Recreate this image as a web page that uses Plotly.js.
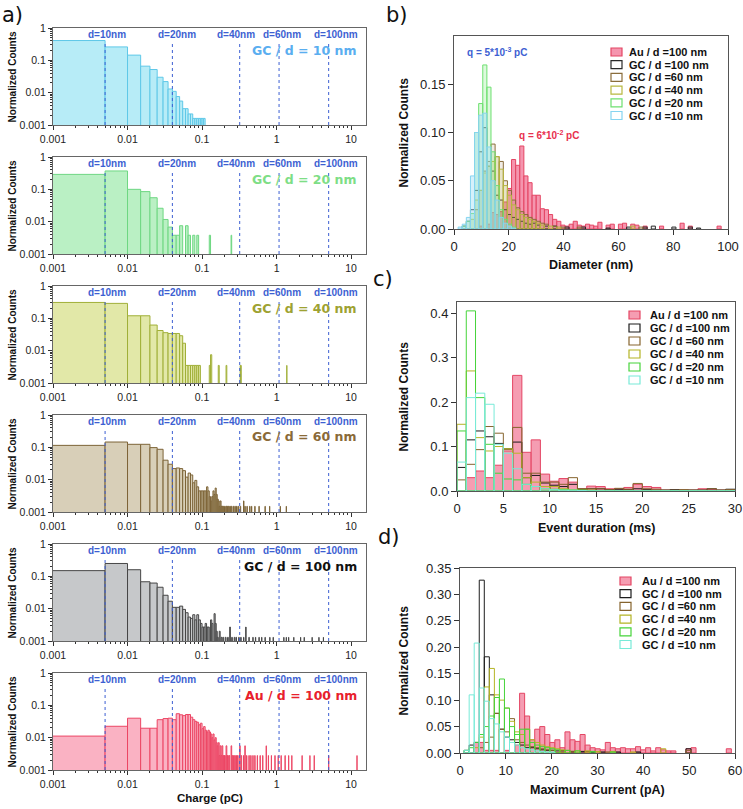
<!DOCTYPE html>
<html><head><meta charset="utf-8">
<script src="https://cdn.plot.ly/plotly-3.0.1.min.js"></script>
<style>html,body{margin:0;padding:0;background:#fff}#chart{width:743px;height:809px}</style>
</head><body><div id="chart"></div>
<script>
// ================= DATA =================
// charge of a sphere of diameter d (pC) -> marker lines
const markerCharges = [0.005, 0.04, 0.32, 1.08, 5];
const markerLabels = ['d=10nm', 'd=20nm', 'd=40nm', 'd=60nm', 'd=100nm'];
const chargeTicks = [0.001, 0.01, 0.1, 1, 10];
const chargeTickText = ['0.001', '0.01', '0.1', '1', '10'];
const countTicks = [0.001, 0.01, 0.1, 1];
const countTickText = ['0.001', '0.01', '0.1', '1'];
const chargeBinWidth = 0.005;

const panelNames = ['GC / d = 10 nm', 'GC / d = 20 nm', 'GC / d = 40 nm', 'GC / d = 60 nm', 'GC / d = 100 nm', 'Au / d = 100 nm'];

// charge histograms (bin centre, normalized count)
const chgGC10x = [0.0025,0.0075,0.0125,0.0175,0.0225,0.0275,0.0325,0.0375,0.0425,0.0475,0.0525,0.0575,0.0625,0.0675,0.0725,0.0775,0.0825,0.0875,0.0925,0.0975,0.1025,0.1075];
const chgGC10y = [0.41,0.26,0.145,0.066,0.052,0.030,0.022,0.013,0.011,0.0076,0.0055,0.0032,0.0032,0.0022,0.0022,0.0016,0.0016,0.0016,0.0016,0.0016,0.0016,0.0016];

const chgGC20x = [0.0025,0.0075,0.0125,0.0175,0.0225,0.0275,0.0325,0.0375,0.0425,0.0475,0.0525,0.0625,0.0675,0.0775,0.0875,0.1275,0.2475];
const chgGC20y = [0.29,0.37,0.10,0.085,0.055,0.026,0.0117,0.0068,0.0038,0.0038,0.0075,0.0075,0.0038,0.0038,0.0038,0.0038,0.0038];

const chgGC40x = [0.0025,0.0075,0.0125,0.0175,0.0225,0.0275,0.0325,0.0375,0.0425,0.0475,0.0525,0.0575,0.0625,0.0675,0.0725,0.0775,0.0825,0.0875,0.0925,0.1275,0.1325,0.1675,0.2125,0.3275,0.3325,1.3725];
const chgGC40y = [0.31,0.29,0.12,0.12,0.062,0.042,0.036,0.034,0.034,0.034,0.029,0.017,0.0035,0.0035,0.0035,0.0035,0.0035,0.0035,0.0035,0.0035,0.0075,0.0035,0.0035,0.0035,0.0035,0.0035];

const chgGC60x = [0.0025,0.0075,0.0125,0.0175,0.0225,0.0275,0.0325,0.0375,0.0425,0.0475,0.0525,0.0575,0.0625,0.0675,0.0725,0.0775,0.0825,0.0875,0.0925,0.0975,0.1025,0.1075,0.1125,0.1175,0.1225,0.1275,0.1325,0.1375,0.1425,0.1475,0.1525,0.1575,0.1625,0.1675,0.1725,0.1775,0.1825,0.1875,0.1925,0.2025,0.2125,0.2175,0.2275,0.2375,0.2475,0.2625,0.2775,0.2925,0.3075,0.3275,0.3625,0.3775,0.4025,0.4375,0.4625,0.5125,0.5825,0.7025,0.8075,1.1225,1.3525];
const chgGC60y = [0.115,0.146,0.124,0.124,0.098,0.087,0.040,0.030,0.022,0.023,0.022,0.019,0.012,0.016,0.014,0.008,0.0095,0.006,0.0045,0.0045,0.0045,0.0045,0.0045,0.006,0.0045,0.003,0.0022,0.003,0.0045,0.0035,0.0055,0.0035,0.0025,0.0022,0.0015,0.0022,0.0015,0.0015,0.0015,0.0015,0.0015,0.0015,0.0015,0.0015,0.0015,0.0015,0.0015,0.0015,0.0015,0.0015,0.0022,0.0015,0.0015,0.0015,0.0015,0.0015,0.0015,0.0015,0.0015,0.0015,0.0015];

const chgGC100x = [0.0025,0.0075,0.0125,0.0175,0.0225,0.0275,0.0325,0.0375,0.0425,0.0475,0.0525,0.0575,0.0625,0.0675,0.0725,0.0775,0.0825,0.0875,0.0925,0.0975,0.1025,0.1075,0.1125,0.1175,0.1225,0.1325,0.1375,0.1475,0.1525,0.1575,0.1625,0.1725,0.1825,0.1925,0.2075,0.2225,0.2375,0.2525,0.2725,0.2875,0.3125,0.3325,0.3625,0.3875,0.4275,0.4825,0.5225,0.5825,0.6325,0.7025,0.8125,0.9025,1.2525,1.3525,1.4525,1.7025,2.1025,2.3525,3.0025,3.7025,4.2525];
const chgGC100y = [0.15,0.25,0.16,0.068,0.062,0.046,0.026,0.017,0.011,0.011,0.012,0.0095,0.0075,0.0055,0.005,0.0065,0.0045,0.0065,0.0045,0.0035,0.0027,0.0027,0.0035,0.0027,0.0027,0.0045,0.0035,0.007,0.0035,0.002,0.0013,0.002,0.0013,0.0013,0.0013,0.0013,0.0027,0.0013,0.0013,0.0013,0.0013,0.0013,0.0013,0.0027,0.0013,0.0013,0.0013,0.0013,0.0013,0.0013,0.0013,0.0013,0.0013,0.0013,0.0013,0.0013,0.0013,0.0013,0.0013,0.0013,0.0013];

const chgAu100x = [0.0025,0.0075,0.0125,0.0175,0.0225,0.0275,0.0325,0.0375,0.0425,0.0475,0.0525,0.0575,0.0625,0.0675,0.0725,0.0775,0.0825,0.0875,0.0925,0.0975,0.1025,0.1075,0.1125,0.1175,0.1225,0.1275,0.1325,0.1375,0.1425,0.1475,0.1525,0.1575,0.1625,0.1675,0.1725,0.1775,0.1825,0.1875,0.1925,0.1975,0.2025,0.2125,0.2175,0.2225,0.2325,0.2475,0.2575,0.2675,0.2775,0.2925,0.3025,0.3225,0.3375,0.3625,0.3775,0.3975,0.4275,0.4525,0.4825,0.5125,0.5525,0.6025,0.6525,0.7275,0.7775,0.8525,0.9525,1.0525,1.1525,1.3025,1.4525,1.6025,2.2025,2.8025,3.2025,5.0025,12.0025];
const chgAu100y = [0.0112,0.0225,0.040,0.0196,0.0196,0.036,0.039,0.040,0.036,0.055,0.051,0.048,0.052,0.052,0.043,0.036,0.032,0.030,0.025,0.028,0.019,0.022,0.017,0.015,0.017,0.015,0.013,0.010,0.013,0.0085,0.010,0.007,0.0056,0.007,0.0028,0.0056,0.0028,0.0056,0.0028,0.0028,0.0028,0.0056,0.0028,0.0028,0.0028,0.0056,0.0028,0.0028,0.0028,0.0028,0.0028,0.0056,0.0028,0.0028,0.0056,0.0028,0.0028,0.0028,0.0028,0.0028,0.0028,0.0028,0.0028,0.0056,0.0028,0.0028,0.0028,0.0028,0.0028,0.0028,0.0028,0.0028,0.0028,0.0028,0.0028,0.0028,0.0028];

// series names for the right panels (legend order)
const seriesNames = ['Au / d =100 nm', 'GC / d =100 nm', 'GC / d =60 nm', 'GC / d =40 nm', 'GC / d =20 nm', 'GC / d =10 nm'];

// b) diameter histograms (nm)
const diamBinWidth = 1.5;
const diaAu100x = [9.75,12.75,14.25,15.75,17.25,18.75,20.25,21.75,23.25,24.75,26.25,27.75,29.25,30.75,32.25,33.75,35.25,36.75,38.25,39.75,41.25,42.75,44.25,45.75,47.25,48.75,50.25,51.75,53.25,56.25,57.75,60.75,62.25,65.25,66.75,69.75,75.75,83.25,86.25,96.75];
const diaAu100y = [0.003,0.005,0.017,0.015,0.018,0.028,0.042,0.072,0.066,0.086,0.055,0.048,0.035,0.035,0.021,0.020,0.015,0.010,0.008,0.004,0.003,0.005,0.008,0.004,0.003,0.005,0.004,0.003,0.007,0.004,0.005,0.005,0.006,0.005,0.004,0.003,0.003,0.006,0.003,0.003];
const diaGC100x = [3.75,5.25,6.75,8.25,9.75,11.25,12.75,14.25,15.75,17.25,18.75,20.25,21.75,23.25,24.75,26.25,27.75,29.25,30.75,33.75,36.75,41.25,47.25,56.25,63.75,69.75,72.75,80.25,86.25,89.25];
const diaGC100y = [0.003,0.008,0.02,0.04,0.08,0.105,0.065,0.06,0.035,0.03,0.02,0.015,0.012,0.01,0.008,0.006,0.005,0.006,0.004,0.003,0.003,0.002,0.002,0.001,0.002,0.002,0.003,0.002,0.002,0.001];
const diaGC60x = [8.25,9.75,11.25,12.75,14.25,15.75,17.25,18.75,20.25,21.75,23.25,24.75,26.25,27.75,29.25,30.75,32.25,33.75,36.75,39.75,45.75,68.25];
const diaGC60y = [0.02,0.04,0.06,0.07,0.088,0.075,0.07,0.05,0.04,0.03,0.022,0.018,0.015,0.012,0.01,0.008,0.006,0.005,0.003,0.002,0.002,0.002];
const diaGC40x = [6.75,8.25,9.75,11.25,12.75,14.25,15.75,17.25,18.75,20.25,21.75,23.25,24.75,26.25,27.75,29.25,30.75,32.25,35.25,38.25,65.25];
const diaGC40y = [0.01,0.03,0.04,0.058,0.065,0.07,0.075,0.062,0.045,0.035,0.025,0.02,0.015,0.012,0.01,0.008,0.006,0.004,0.003,0.002,0.003];
const diaGC20x = [3.75,5.25,6.75,8.25,9.75,11.25,12.75,14.25,15.75,17.25,18.75,20.25,21.75];
const diaGC20y = [0.003,0.008,0.016,0.1,0.13,0.17,0.147,0.08,0.045,0.02,0.01,0.005,0.002];
const diaGC10x = [2.25,3.75,5.25,6.75,8.25,9.75,11.25,12.75,14.25,15.75,17.25,18.75,20.25,21.75];
const diaGC10y = [0.002,0.005,0.012,0.055,0.1,0.118,0.12,0.085,0.05,0.03,0.012,0.006,0.003,0.001];

// c) event duration histograms (ms), bins of 1 ms
const durBinWidth = 1;
const durX = [0.5,1.5,2.5,3.5,4.5,5.5,6.5,7.5,8.5,9.5,10.5,11.5,12.5,13.5,14.5,15.5,16.5,17.5,18.5,19.5,20.5,21.5,22.5,23.5,24.5,25.5,26.5,27.5,28.5,29.5];
const durAu100 = [0,0.03,0.045,0.03,0.058,0.09,0.26,0.087,0.115,0.038,0.022,0.028,0.02,0.005,0.011,0.01,0.005,0.005,0.008,0.015,0.01,0.008,0.002,0.002,0.002,0.002,0.005,0.003,0.002,0.002];
const durGC100 = [0.053,0.115,0.135,0.122,0.107,0.095,0.11,0.03,0.035,0.018,0.013,0.01,0.015,0.004,0.005,0.005,0.003,0.004,0.003,0.005,0.003,0.002,0.002,0.003,0.002,0.002,0.002,0.005,0.002,0.004];
const durGC60 = [0.025,0.06,0.093,0.145,0.13,0.093,0.143,0.04,0.04,0.02,0.02,0.015,0.03,0.005,0.005,0.005,0.003,0.006,0.004,0.017,0.005,0.004,0.002,0.002,0.003,0.002,0.002,0.005,0.002,0.003];
const durGC40 = [0.15,0.27,0.12,0.09,0.1,0.095,0.085,0.03,0.02,0.01,0.01,0.005,0.003,0.002,0.002,0.001,0,0,0,0,0,0,0,0,0,0,0,0,0,0];
const durGC20 = [0.135,0.405,0.21,0.105,0.04,0.027,0.025,0.015,0.01,0.005,0.004,0.003,0.002,0.002,0.001,0,0,0,0,0,0,0,0,0,0,0,0,0,0,0];
const durGC10 = [0.065,0.21,0.22,0.195,0.105,0.085,0.05,0.015,0.01,0.005,0.003,0.002,0.002,0.001,0,0,0,0,0,0,0,0,0,0,0,0,0,0,0,0];

// d) maximum current histograms (pA)
const curBinWidth = 1.1;
const curAu100x = [3.65,4.75,5.85,6.95,8.05,10.25,12.45,13.55,14.65,15.75,16.85,17.95,19.05,20.15,21.25,22.35,23.45,24.55,25.65,26.75,27.85,28.95,30.05,31.15,32.25,33.35,34.45,35.55,36.65,37.75,38.85,39.95,41.05,42.15,43.25,44.35,45.45,46.55,49.85,50.95,58.65];
const curAu100y = [0.02,0.02,0.005,0.005,0.005,0.005,0.015,0.113,0.07,0.025,0.045,0.05,0.035,0.02,0.025,0.01,0.04,0.025,0.022,0.035,0.015,0.01,0.008,0.006,0.02,0.01,0.008,0.01,0.008,0.008,0.012,0.006,0.01,0.004,0.01,0.006,0.004,0.004,0.008,0.01,0.008];
const curGC100x = [1.45,2.55,3.65,4.75,5.85,6.95,8.05,9.15,10.25,11.35,12.45,13.55,14.65,15.75,16.85,17.95,19.05,20.15,21.25,22.35,24.55,26.75,28.95,31.15,34.45,38.85,49.85];
const curGC100y = [0.005,0.015,0.02,0.327,0.182,0.11,0.075,0.045,0.03,0.025,0.02,0.015,0.01,0.01,0.008,0.006,0.005,0.005,0.004,0.004,0.003,0.003,0.002,0.002,0.002,0.002,0.008];
const curGC60x = [4.75,5.85,6.95,8.05,9.15,10.25,11.35,12.45,13.55,14.65,15.75,16.85,17.95,19.05,20.15,22.35,24.55,27.85,32.25,49.85];
const curGC60y = [0.01,0.02,0.03,0.075,0.045,0.04,0.065,0.025,0.02,0.015,0.012,0.01,0.008,0.006,0.005,0.004,0.003,0.003,0.002,0.005];
const curGC40x = [3.65,4.75,5.85,6.95,8.05,9.15,10.25,11.35,12.45,13.55,14.65,15.75,16.85,17.95,19.05,20.15,21.25,22.35,23.45,25.65,27.85,30.05,33.35,37.75,44.35];
const curGC40y = [0.01,0.03,0.125,0.16,0.11,0.10,0.085,0.06,0.04,0.035,0.045,0.025,0.02,0.015,0.012,0.01,0.008,0.006,0.005,0.004,0.004,0.003,0.003,0.002,0.008];
const curGC20x = [1.45,2.55,3.65,4.75,5.85,6.95,8.05,9.15,10.25,11.35,12.45,13.55,14.65,15.75,16.85,17.95,19.05,20.15,21.25,23.45,25.65,28.95,33.35];
const curGC20y = [0.005,0.01,0.02,0.035,0.05,0.07,0.105,0.14,0.085,0.05,0.035,0.045,0.045,0.02,0.015,0.012,0.01,0.008,0.006,0.005,0.004,0.003,0.002];
const curGC10x = [1.45,2.55,3.65,4.75,5.85,6.95,8.05,9.15,10.25,11.35,12.45,13.55,14.65,15.75,16.85,17.95,19.05,20.15];
const curGC10y = [0.005,0.11,0.208,0.123,0.098,0.065,0.055,0.04,0.03,0.02,0.015,0.01,0.008,0.006,0.004,0.003,0.002,0.002];

// ================= STYLE / LAYOUT =================
const W = 743, HT = 809;
const fx = p => p / W, fy = p => 1 - p / HT;
const SANS = 'Liberation Sans, Arial, sans-serif';
const VERD = 'DejaVu Sans, Verdana, sans-serif';
const BLUE = '#3d5fd2';
const markerLabelShift = [2, 5, -4, 3, 7];

const leftData = [[chgGC10x, chgGC10y], [chgGC20x, chgGC20y], [chgGC40x, chgGC40y], [chgGC60x, chgGC60y], [chgGC100x, chgGC100y], [chgAu100x, chgAu100y]];
const leftStyle = [
  {fill: 'rgb(183,236,247)', line: 'rgb(95,200,232)', title: '#5aaef0'},
  {fill: 'rgb(186,240,196)', line: 'rgb(110,215,130)', title: '#7ede86'},
  {fill: 'rgb(226,232,168)', line: 'rgb(160,175,55)', title: '#9ea232'},
  {fill: 'rgb(216,207,184)', line: 'rgb(125,100,55)', title: '#8a6a38'},
  {fill: 'rgb(198,200,202)', line: 'rgb(70,70,70)', title: '#111111'},
  {fill: 'rgb(250,178,195)', line: 'rgb(236,70,100)', title: '#e8202c'}
];
const leftL = 53, leftR = 366, leftH = 97;
const leftTops = [28, 157, 286, 415, 544, 673];

const traces = [];
const layout = {
  width: W, height: HT, margin: {l: 0, r: 0, t: 0, b: 0},
  paper_bgcolor: '#fff', plot_bgcolor: '#fff', showlegend: false,
  barmode: 'overlay', annotations: [], shapes: [],
  font: {family: SANS, color: '#222'}
};

leftData.forEach((d, i) => {
  const n = i + 1;
  const xr = n === 1 ? 'x' : 'x' + n, yr = n === 1 ? 'y' : 'y' + n;
  const st = leftStyle[i];
  traces.push({type: 'bar', x: d[0], y: d[1], width: chargeBinWidth, xaxis: xr, yaxis: yr,
    marker: {color: st.fill, line: {color: st.line, width: 1}}, hoverinfo: 'skip'});
  const top = leftTops[i], bot = top + leftH;
  layout[n === 1 ? 'xaxis' : 'xaxis' + n] = {
    domain: [fx(leftL), fx(leftR)], anchor: yr, type: 'log', range: [-3, 1.2],
    tickmode: 'array', tickvals: chargeTicks, ticktext: chargeTickText,
    ticks: 'outside', ticklen: 4, tickcolor: '#333', tickfont: {size: 10.5, family: SANS, color: '#222'},
    minor: {ticks: 'outside', ticklen: 2, dtick: 'D1', tickcolor: '#333'},
    showline: true, linecolor: '#666', linewidth: 1, mirror: true, showgrid: false, zeroline: false
  };
  layout[n === 1 ? 'yaxis' : 'yaxis' + n] = {
    domain: [fy(bot), fy(top)], anchor: xr, type: 'log', range: [-3, 0],
    tickmode: 'array', tickvals: countTicks, ticktext: countTickText,
    ticks: 'outside', ticklen: 4, tickcolor: '#333', tickfont: {size: 10.5, family: SANS, color: '#222'},
    minor: {ticks: 'outside', ticklen: 2, dtick: 'D1', tickcolor: '#333'},
    showline: true, linecolor: '#666', linewidth: 1, mirror: true, showgrid: false, zeroline: false
  };
  markerCharges.forEach((q, k) => {
    // shapes on log axes take data values; annotations take log10 values
    layout.shapes.push({type: 'line', xref: xr, yref: yr + ' domain', x0: q, x1: q, y0: 0, y1: 0.86,
      line: {color: BLUE, width: 1, dash: 'dot'}});
    layout.annotations.push({xref: xr, yref: yr + ' domain', x: Math.log10(q), y: 1, yanchor: 'top', yshift: 0,
      xshift: markerLabelShift[k], xanchor: 'center', showarrow: false, text: '<b>' + markerLabels[k] + '</b>',
      font: {family: SANS, size: 10, color: BLUE}, borderpad: 0});
  });
  layout.annotations.push({xref: xr + ' domain', yref: yr + ' domain', x: (358 - leftL) / (leftR - leftL), y: 1 - 22 / leftH,
    xanchor: 'right', yanchor: 'middle', showarrow: false, text: '<b>' + panelNames[i] + '</b>',
    font: {family: VERD, size: 12.5, color: st.title}, borderpad: 0});
  layout.annotations.push({xref: 'paper', yref: 'paper', x: fx(12), y: fy(top + leftH / 2), textangle: -90,
    xanchor: 'center', yanchor: 'middle', showarrow: false, text: '<b>Normalized Counts</b>',
    font: {family: SANS, size: 10, color: '#111'}});
});
layout.annotations.push({xref: 'paper', yref: 'paper', x: fx((leftL + leftR) / 2), y: fy(798), xanchor: 'center', yanchor: 'middle',
  showarrow: false, text: '<b>Charge (pC)</b>', font: {family: SANS, size: 11.5, color: '#111'}});

// ---- right panels ----
const rightStyleB = [
  {line: 'rgb(228,70,100)', fill: 'rgba(243,130,160,0.85)'},
  {line: '#2a2a2a', fill: 'rgba(0,0,0,0.04)'},
  {line: '#8a6d3b', fill: 'rgba(160,130,80,0.15)'},
  {line: '#b8b840', fill: 'rgba(200,200,80,0.2)'},
  {line: '#6ee070', fill: 'rgba(120,230,120,0.25)'},
  {line: '#86d4f0', fill: 'rgba(150,220,245,0.4)'}
];
const rightStyleCD = [
  {line: 'rgb(228,70,100)', fill: 'rgba(243,140,165,0.85)'},
  {line: '#1c1c1c', fill: 'rgba(0,0,0,0)'},
  {line: '#86642e', fill: 'rgba(0,0,0,0)'},
  {line: '#b4b425', fill: 'rgba(0,0,0,0)'},
  {line: '#46d43a', fill: 'rgba(0,0,0,0)'},
  {line: '#78ead8', fill: 'rgba(0,0,0,0)'}
];

const rightPanels = [
  {n: 7, box: [454, 728, 36, 229], xr: [0, 100], xdt: 20, yr: [0, 0.2], yt: [0, 0.05, 0.1, 0.15], yfmt: '.2f', bw: diamBinWidth,
   xtitle: 'Diameter (nm)', xtitleY: 265, style: rightStyleB,
   data: [[diaAu100x, diaAu100y], [diaGC100x, diaGC100y], [diaGC60x, diaGC60y], [diaGC40x, diaGC40y], [diaGC20x, diaGC20y], [diaGC10x, diaGC10y]],
   leg: {sx: 611, tx: 628, y0: 52, dy: 12.7}},
  {n: 8, box: [457, 735, 302, 491], xr: [0, 30], xdt: 5, yr: [0, 0.425], yt: [0, 0.1, 0.2, 0.3, 0.4], yfmt: '.1f', bw: durBinWidth,
   xtitle: 'Event duration (ms)', xtitleY: 528, style: rightStyleCD,
   data: [[durX, durAu100], [durX, durGC100], [durX, durGC60], [durX, durGC40], [durX, durGC20], [durX, durGC10]],
   leg: {sx: 629, tx: 649, y0: 315, dy: 13}},
  {n: 9, box: [460, 735, 568, 753], xr: [0, 60], xdt: 10, yr: [0, 0.35], yt: [0, 0.05, 0.1, 0.15, 0.2, 0.25, 0.3, 0.35], yfmt: '.2f', bw: curBinWidth,
   xtitle: 'Maximum Current (pA)', xtitleY: 790, style: rightStyleCD,
   data: [[curAu100x, curAu100y], [curGC100x, curGC100y], [curGC60x, curGC60y], [curGC40x, curGC40y], [curGC20x, curGC20y], [curGC10x, curGC10y]],
   leg: {sx: 620, tx: 641, y0: 581, dy: 12.7}}
];

rightPanels.forEach(p => {
  const xr = 'x' + p.n, yr = 'y' + p.n;
  p.data.forEach((d, k) => {
    traces.push({type: 'bar', x: d[0], y: d[1], width: p.bw, xaxis: xr, yaxis: yr,
      marker: {color: p.style[k].fill, line: {color: p.style[k].line, width: 1}}, hoverinfo: 'skip'});
  });
  const [l, r, t, b] = p.box;
  layout['xaxis' + p.n] = {domain: [fx(l), fx(r)], anchor: yr, range: p.xr, dtick: p.xdt, tick0: 0,
    ticks: 'outside', ticklen: 5, tickcolor: '#333', tickfont: {size: 13, family: SANS, color: '#222'},
    showline: true, linecolor: '#555', mirror: true, showgrid: false, zeroline: false};
  layout['yaxis' + p.n] = {domain: [fy(b), fy(t)], anchor: xr, range: p.yr, tickmode: 'array', tickvals: p.yt, tickformat: p.yfmt,
    ticks: 'outside', ticklen: 5, tickcolor: '#333', tickfont: {size: 13, family: SANS, color: '#222'},
    showline: true, linecolor: '#555', mirror: true, showgrid: false, zeroline: false};
  layout.annotations.push({xref: 'paper', yref: 'paper', x: fx((l + r) / 2), y: fy(p.xtitleY), xanchor: 'center', yanchor: 'middle',
    showarrow: false, text: '<b>' + p.xtitle + '</b>', font: {family: SANS, size: 12.5, color: '#111'}});
  layout.annotations.push({xref: 'paper', yref: 'paper', x: fx(403), y: fy((t + b) / 2), textangle: -90, xanchor: 'center', yanchor: 'middle',
    showarrow: false, text: '<b>Normalized Counts</b>', font: {family: SANS, size: 12, color: '#111'}});
  // legend
  seriesNames.forEach((nm, k) => {
    const yc = p.leg.y0 + k * p.leg.dy;
    const isAu = k === 0;
    layout.shapes.push({type: 'rect', xref: 'paper', yref: 'paper', x0: fx(p.leg.sx), x1: fx(p.leg.sx + 11), y0: fy(yc + 4), y1: fy(yc - 4),
      fillcolor: isAu ? p.style[0].fill : '#ffffff', line: {color: p.style[k].line, width: 1.2}});
    layout.annotations.push({xref: 'paper', yref: 'paper', x: fx(p.leg.tx), y: fy(yc), xanchor: 'left', yanchor: 'middle',
      showarrow: false, text: '<b>' + nm + '</b>', font: {family: SANS, size: 11, color: '#111'}, borderpad: 0});
  });
});

// b) charge annotations
layout.annotations.push({xref: 'x7', yref: 'y7', x: 4, y: 0.183, xanchor: 'left', yanchor: 'middle', showarrow: false,
  text: '<b>q = 5*10<sup>-3</sup> pC</b>', font: {family: SANS, size: 10, color: BLUE}});
layout.annotations.push({xref: 'x7', yref: 'y7', x: 23, y: 0.097, xanchor: 'left', yanchor: 'middle', showarrow: false,
  text: '<b>q = 6*10<sup>-2</sup> pC</b>', font: {family: SANS, size: 10, color: '#e8304e'}});

// panel letters
[['a)', 12, 15], ['b)', 397, 15], ['c)', 383, 279], ['d)', 389, 537]].forEach(a => {
  layout.annotations.push({xref: 'paper', yref: 'paper', x: fx(a[1]), y: fy(a[2]), xanchor: 'center', yanchor: 'middle',
    showarrow: false, text: a[0], font: {family: VERD, size: 21, color: '#111'}});
});

Plotly.newPlot('chart', traces, layout, {staticPlot: true, displayModeBar: false});
</script>
</body></html>
